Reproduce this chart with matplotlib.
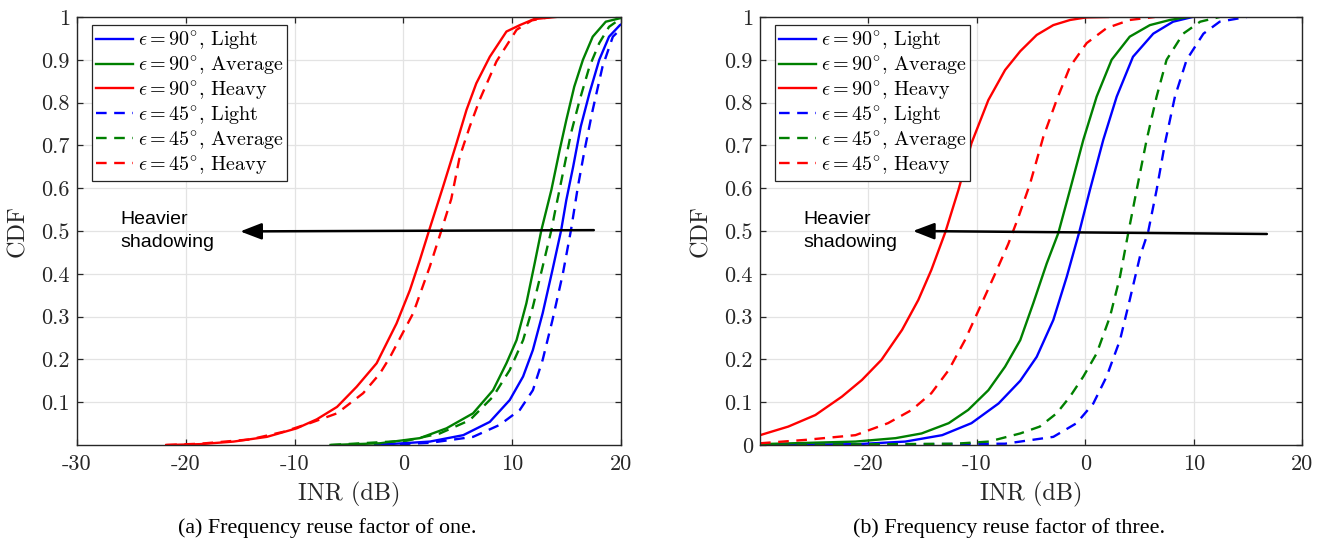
import numpy as np
import matplotlib
matplotlib.use('Agg')
import matplotlib.pyplot as plt

plt.rcParams['font.family'] = 'serif'
plt.rcParams['font.serif'] = ['cmr10']
plt.rcParams['mathtext.fontset'] = 'cm'
plt.rcParams['axes.unicode_minus'] = False
plt.rcParams['axes.formatter.use_mathtext'] = True

# ---- (a) frequency reuse factor of one ----
a90_light_x = [-2.6, 2.43, 5.5, 7.94, 9.77, 11.0, 11.9, 12.8, 13.7, 14.5, 14.97, 15.6, 16.3, 17.1, 18.0, 18.9, 19.9, 20.5]
a90_light_y = [0.0, 0.008, 0.023, 0.054, 0.105, 0.16, 0.222, 0.308, 0.409, 0.502, 0.572, 0.65, 0.744, 0.822, 0.9, 0.954, 0.981, 0.99]
a90_avg_x = [-6.7, -2.16, 1.5, 3.96, 6.4, 8.24, 9.47, 10.4, 11.3, 12.06, 12.68, 13.6, 14.36, 14.97, 15.7, 16.5, 17.4, 18.6, 19.9, 20.5]
a90_avg_y = [0.0, 0.004, 0.016, 0.039, 0.074, 0.128, 0.191, 0.245, 0.331, 0.424, 0.502, 0.596, 0.689, 0.759, 0.837, 0.9, 0.954, 0.989, 0.997, 1.0]
a90_heavy_x = [-21.8, -18.7, -15.6, -12.55, -9.8, -7.96, -6.1, -4.3, -2.46, -1.24, -0.63, 0.6, 1.51, 2.37, 3.65, 4.88, 5.8, 6.7, 7.94, 9.47, 10.7, 12.0, 14.0]
a90_heavy_y = [0.0, 0.002, 0.008, 0.019, 0.039, 0.060, 0.089, 0.136, 0.191, 0.253, 0.284, 0.362, 0.432, 0.502, 0.604, 0.705, 0.783, 0.845, 0.907, 0.966, 0.981, 0.995, 1.0]
a45_light_x = [-2.0, 2.4, 6.4, 8.85, 10.7, 11.9, 12.8, 13.7, 14.66, 15.4, 16.04, 16.65, 17.4, 18.3, 19.25, 19.9, 20.5]
a45_light_y = [0.0, 0.005, 0.019, 0.047, 0.082, 0.128, 0.199, 0.292, 0.401, 0.502, 0.604, 0.689, 0.783, 0.884, 0.954, 0.97, 0.98]
a45_avg_x = [-6.7, 0.3, 3.35, 6.1, 8.24, 9.77, 11.0, 11.9, 12.8, 13.6, 13.9, 14.66, 15.4, 16.2, 17.1, 18.0, 18.9, 19.9]
a45_avg_y = [0.0, 0.01, 0.027, 0.058, 0.113, 0.175, 0.245, 0.323, 0.417, 0.502, 0.541, 0.635, 0.728, 0.806, 0.884, 0.939, 0.977, 0.995]
a45_heavy_x = [-21.8, -18.7, -14.1, -11.0, -8.6, -6.1, -3.7, -2.16, -1.24, 0.9, 2.43, 3.5, 4.4, 5.18, 6.1, 7.0, 8.55, 10.4, 11.8, 13.5]
a45_heavy_y = [0.0, 0.003, 0.013, 0.031, 0.051, 0.074, 0.121, 0.167, 0.205, 0.308, 0.417, 0.502, 0.575, 0.674, 0.744, 0.806, 0.896, 0.97, 0.992, 1.0]

# ---- (b) frequency reuse factor of three ----
b90_light_x = [-30.0, -21.0, -16.6, -13.2, -10.5, -8.0, -6.0, -4.48, -2.95, -1.71, -0.55, 0.43, 1.66, 2.9, 4.4, 6.27, 8.1, 9.9]
b90_light_y = [0.0, 0.002, 0.008, 0.023, 0.051, 0.097, 0.15, 0.206, 0.292, 0.393, 0.498, 0.596, 0.713, 0.814, 0.907, 0.961, 0.989, 1.0]
b90_avg_x = [-30.0, -21.2, -17.5, -15.1, -12.6, -10.8, -8.94, -7.4, -6.0, -4.8, -3.56, -2.49, -1.41, -0.18, 1.05, 2.43, 4.1, 5.96, 7.8, 9.5]
b90_avg_y = [0.002, 0.008, 0.016, 0.027, 0.051, 0.082, 0.128, 0.183, 0.245, 0.331, 0.424, 0.495, 0.596, 0.713, 0.814, 0.9, 0.954, 0.981, 0.993, 1.0]
b90_heavy_x = [-30.0, -27.4, -24.9, -22.45, -20.6, -18.8, -16.9, -15.4, -14.2, -12.9, -11.7, -10.5, -8.94, -7.4, -6.0, -4.48, -2.95, -1.4, 0.1, 2.1]
b90_heavy_y = [0.023, 0.043, 0.07, 0.113, 0.152, 0.199, 0.269, 0.339, 0.409, 0.498, 0.596, 0.705, 0.806, 0.876, 0.92, 0.958, 0.981, 0.993, 0.999, 1.0]
b45_light_x = [-30.0, -7.4, -6.0, -2.95, -0.8, 0.74, 1.97, 3.2, 4.1, 5.04, 5.8, 6.58, 7.35, 8.27, 9.35, 10.9, 12.4, 14.9]
b45_light_y = [0.0, 0.003, 0.008, 0.019, 0.051, 0.097, 0.16, 0.245, 0.339, 0.44, 0.498, 0.596, 0.705, 0.814, 0.9, 0.961, 0.989, 1.0]
b45_avg_x = [-30.0, -12.0, -8.9, -6.0, -4.2, -2.64, -1.41, -0.18, 1.05, 2.28, 3.2, 3.96, 4.74, 5.66, 6.58, 7.5, 9.03, 10.6, 12.4]
b45_avg_y = [0.0, 0.003, 0.008, 0.027, 0.043, 0.074, 0.113, 0.16, 0.214, 0.3, 0.393, 0.495, 0.596, 0.713, 0.814, 0.9, 0.961, 0.989, 1.0]
b45_heavy_x = [-30.0, -25.8, -21.2, -18.2, -16.0, -14.2, -12.6, -11.1, -9.55, -8.3, -7.1, -6.2, -5.1, -3.87, -2.64, -1.41, 0.13, 1.97, 4.1, 6.4]
b45_heavy_y = [0.004, 0.012, 0.023, 0.051, 0.082, 0.121, 0.175, 0.245, 0.331, 0.401, 0.47, 0.53, 0.61, 0.72, 0.806, 0.884, 0.939, 0.974, 0.993, 1.0]

labels = [r'$\epsilon = 90^{\circ}$, Light', r'$\epsilon = 90^{\circ}$, Average', r'$\epsilon = 90^{\circ}$, Heavy',
          r'$\epsilon = 45^{\circ}$, Light', r'$\epsilon = 45^{\circ}$, Average', r'$\epsilon = 45^{\circ}$, Heavy']
colors = ['#0000ff', '#008000', '#ff0000'] * 2
styles = ['-'] * 3 + [(0, (4.5, 3.2))] * 3

# arrow tail / head (INR dB, CDF)
arrow_a = [(17.5, 0.502), (-15.0, 0.499)]
arrow_b = [(16.75, 0.493), (-15.9, 0.5)]

fig = plt.figure(figsize=(13.23, 5.39), dpi=100)
ax1 = fig.add_axes([0.0582, 0.1744, 0.4112, 0.7941])
ax2 = fig.add_axes([0.5745, 0.1744, 0.4097, 0.7941])


def draw(ax, curves, arrow, xticks, yticks, lab_x):
    for (x, y), lab, c, ls in zip(curves, labels, colors, styles):
        ax.plot(x, y, color=c, ls=ls, lw=1.7, label=lab)
    ax.set_xlim(-30, 20)
    ax.set_ylim(0, 1)
    ax.set_xticks(xticks)
    ax.set_xticklabels([str(t) for t in xticks])
    ax.set_yticks(yticks)
    ax.set_yticklabels(['0' if t == 0 else ('1' if t == 1 else '%.1f' % t) for t in yticks])
    ax.grid(True, color='#e3e3e3', lw=0.9)
    ax.set_axisbelow(True)
    for s in ax.spines.values():
        s.set_color('#262626')
        s.set_linewidth(1.0)
    ax.tick_params(direction='in', top=True, right=True, length=4, width=0.9,
                   color='#262626', labelsize=16, labelcolor='#262626')
    ax.tick_params(axis='x', pad=7)
    ax.tick_params(axis='y', pad=5)
    ax.set_xlabel('INR (dB)', fontsize=17.5, color='#262626')
    ax.set_ylabel('CDF', fontsize=17.5, color='#262626')
    ax.xaxis.set_label_coords(0.5, -0.085)
    ax.yaxis.set_label_coords(lab_x, 0.5)
    leg = ax.legend(loc='upper left', bbox_to_anchor=(0.027, 0.981), borderaxespad=0,
                    fontsize=14.5, handlelength=1.85, handletextpad=0.25, labelspacing=0.1,
                    borderpad=0.2, fancybox=False, framealpha=1, edgecolor='#262626')
    leg.get_frame().set_linewidth(0.9)
    ax.annotate('', xy=arrow[1], xytext=arrow[0],
                arrowprops=dict(arrowstyle='-|>,head_length=0.65,head_width=0.25',
                                color='k', lw=1.8, mutation_scale=20, shrinkA=0, shrinkB=0))
    ax.text(-26.0, 0.5, 'Heavier\nshadowing', family='Liberation Sans', fontsize=14,
            ha='left', va='center', linespacing=1.45)


curves_a = [(a90_light_x, a90_light_y), (a90_avg_x, a90_avg_y), (a90_heavy_x, a90_heavy_y),
            (a45_light_x, a45_light_y), (a45_avg_x, a45_avg_y), (a45_heavy_x, a45_heavy_y)]
curves_b = [(b90_light_x, b90_light_y), (b90_avg_x, b90_avg_y), (b90_heavy_x, b90_heavy_y),
            (b45_light_x, b45_light_y), (b45_avg_x, b45_avg_y), (b45_heavy_x, b45_heavy_y)]

draw(ax1, curves_a, arrow_a, [-30, -20, -10, 0, 10, 20], [0.1, 0.2, 0.3, 0.4, 0.5, 0.6, 0.7, 0.8, 0.9, 1], -0.088)
draw(ax2, curves_b, arrow_b, [-20, -10, 0, 10, 20], [0, 0.1, 0.2, 0.3, 0.4, 0.5, 0.6, 0.7, 0.8, 0.9, 1], -0.089)

fig.text(0.247, 0.021, '(a) Frequency reuse factor of one.', family='Liberation Serif',
         fontsize=15.8, ha='center', va='center')
fig.text(0.763, 0.021, '(b) Frequency reuse factor of three.', family='Liberation Serif',
         fontsize=15.8, ha='center', va='center')

fig.savefig('out.png', dpi=100)
